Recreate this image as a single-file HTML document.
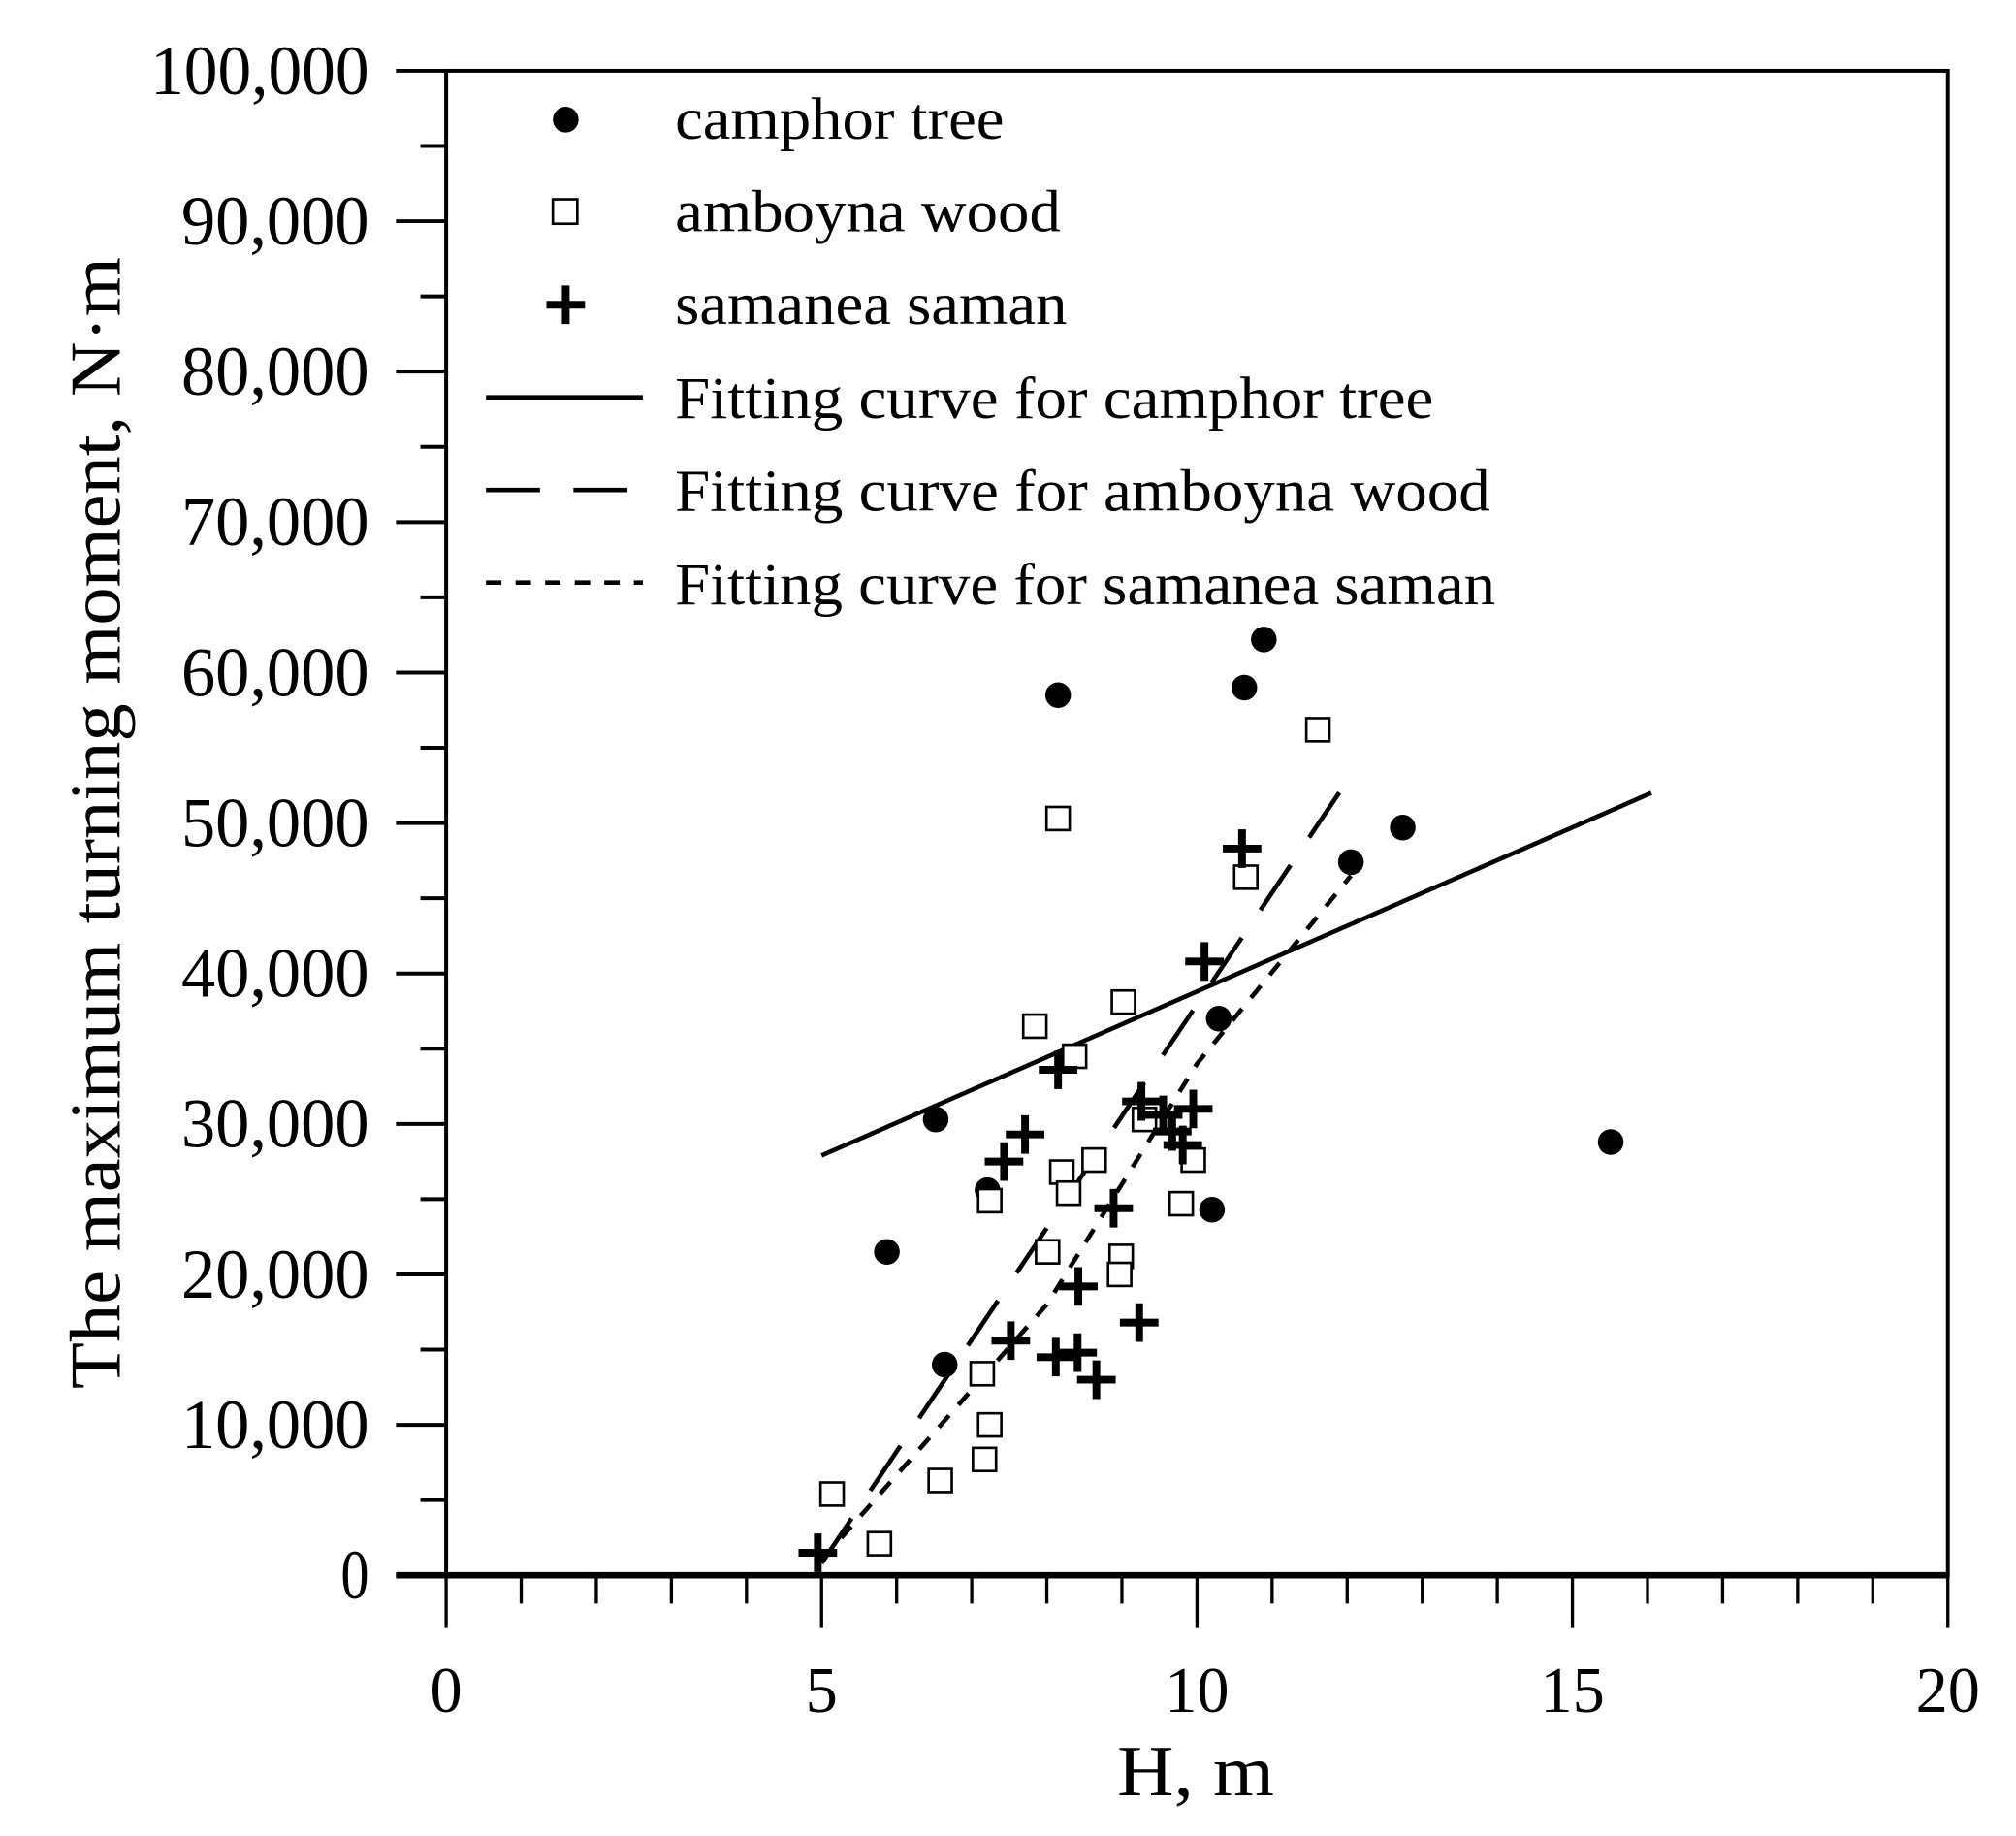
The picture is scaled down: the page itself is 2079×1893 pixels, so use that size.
<!DOCTYPE html>
<html><head><meta charset="utf-8"><style>html,body{margin:0;padding:0;background:#fff}svg{display:block}</style></head>
<body>
<svg id="chart" width="2079" height="1893" viewBox="0 0 1568 1427.7" xmlns="http://www.w3.org/2000/svg" font-family="'Liberation Serif', serif" fill="#000">
<rect width="1568" height="1428" fill="#fff"/>
<g id="axes"></g>
<g id="marks"></g>
<g id="legend">
  <circle cx="440" cy="93" r="10"/>
  <rect x="430" y="155" width="19" height="19" fill="#fff" stroke="#000" stroke-width="2"/>
  <path d="M440 222V252M425 237H455" stroke="#000" stroke-width="6"/>
  <line x1="378" y1="309" x2="500" y2="309" stroke="#000" stroke-width="3.5"/>
  <line x1="378" y1="381" x2="500" y2="381" stroke="#000" stroke-width="3.5" stroke-dasharray="42,26"/>
  <line x1="378" y1="453" x2="500" y2="453" stroke="#000" stroke-width="3.5" stroke-dasharray="12,11"/>
  <text x="525" y="108" font-size="46" textLength="256" lengthAdjust="spacingAndGlyphs">camphor tree</text>
  <text x="525" y="180" font-size="46" textLength="300" lengthAdjust="spacingAndGlyphs">amboyna wood</text>
  <text x="525" y="252" font-size="46" textLength="305" lengthAdjust="spacingAndGlyphs">samanea saman</text>
  <text x="525" y="325" font-size="46" textLength="590" lengthAdjust="spacingAndGlyphs">Fitting curve for camphor tree</text>
  <text x="525" y="397" font-size="46" textLength="634" lengthAdjust="spacingAndGlyphs">Fitting curve for amboyna wood</text>
  <text x="525" y="470" font-size="46" textLength="638" lengthAdjust="spacingAndGlyphs">Fitting curve for samanea saman</text>
</g>
<text x="930" y="1396" font-size="56" text-anchor="middle" textLength="122" lengthAdjust="spacingAndGlyphs">H, m</text>
<text transform="translate(93,640) rotate(-90)" font-size="56" text-anchor="middle" textLength="880" lengthAdjust="spacingAndGlyphs">The maximum turning moment, N·m</text>
</svg>
<script>
const xTicks = [0, 5, 10, 15, 20];
const yTicks = [0, 10000, 20000, 30000, 40000, 50000, 60000, 70000, 80000, 90000, 100000];
const yTickLabels = ["0","10,000","20,000","30,000","40,000","50,000","60,000","70,000","80,000","90,000","100,000"];
const camphorX = [8.15,10.63,10.89,12.74,12.05,10.29,6.52,7.21,10.2,5.87,6.64,15.51];
const camphorY = [58500,59000,62200,49700,47400,37000,30300,25600,24300,21500,14000,28800];
const amboynaX = [11.61,8.15,10.65,9.02,7.84,8.37,9.3,8.63,9.95,8.2,8.29,7.24,9.79,8.99,8.01,8.97,7.14,7.24,7.17,6.58,5.14,5.77];
const amboynaY = [56200,50300,46400,38100,36500,34500,30300,27600,27600,26800,25400,24900,24700,21200,21500,20000,13400,10000,7700,6300,5400,2100];
const samaneaX = [10.6,10.1,8.15,9.26,9.55,9.95,9.67,9.81,7.71,7.43,8.89,8.42,9.23,7.52,8.12,8.41,8.66,4.95];
const samaneaY = [48300,40800,33600,31500,30600,31000,29500,28600,29300,27500,24400,19200,16800,15600,14500,14800,13000,1500];
const fitCamphorX = [5, 16.05];
const fitCamphorY = [27900, 52000];
const fitAmboynaX = [5, 12.04];
const fitAmboynaY = [800, 53100];
const fitSamaneaX = [5, 8, 10, 12.05];
const fitSamaneaY = [1000, 18000, 34000, 46500];

const X0=347, X1=1515, Y0=1225, Y1=55;
const sx = v => X0 + (v - 0) / 20 * (X1 - X0);
const sy = v => Y0 - v / 100000 * (Y0 - Y1);
const NS = "http://www.w3.org/2000/svg";
const axes = document.getElementById('axes');
const marks = document.getElementById('marks');
function mk(tag, attrs, parent) {
  const e = document.createElementNS(NS, tag);
  for (const k in attrs) e.setAttribute(k, attrs[k]);
  parent.appendChild(e);
  return e;
}
// frame
const frame = mk('rect', {x:X0, y:Y1, width:X1-X0, height:Y0-Y1, fill:'none', stroke:'#000', 'stroke-width':3}, axes);


const xAxis = mk('line', {x1:308, y1:Y0, x2:X1, y2:Y0, stroke:'#000', 'stroke-width':5}, axes);


// x ticks
for (let v = 0; v <= 20; v += 1) {
  const major = v % 5 === 0;
  const t = mk('line', {x1:sx(v), y1:Y0, x2:sx(v), y2:Y0 + (major ? 41 : 22), stroke:'#000', 'stroke-width':2.5}, axes);
  
  
}
xTicks.forEach(v => {
  const t = mk('text', {x:sx(v), y:1331, 'font-size':50, 'text-anchor':'middle'}, axes);
  t.textContent = String(v);
  
  
});
// y ticks
for (let v = 0; v <= 100000; v += 5000) {
  const major = v % 10000 === 0;
  const t = mk('line', {x1:X0 - (major ? 39 : 20), y1:sy(v), x2:X0, y2:sy(v), stroke:'#000', 'stroke-width':3}, axes);
  
  
}
yTicks.forEach((v, i) => {
  const lbl = yTickLabels[i];
  const w = lbl.length === 1 ? 22 : (lbl.length === 6 ? 146 : 170);
  const t = mk('text', {x:287, y:sy(v) + 18, 'font-size':54, 'text-anchor':'end', textLength:w, lengthAdjust:'spacingAndGlyphs'}, axes);
  t.textContent = lbl;
  
  
});
// fit lines
function fit(xs, ys, dash, name) {
  const p = mk('polyline', {points: xs.map((x, i) => sx(x) + ',' + sy(ys[i])).join(' '), fill:'none', stroke:'#000', 'stroke-width':3.5, 'stroke-dasharray':dash}, marks);
  
  
}
fit(fitCamphorX, fitCamphorY, 'none', 'fit-line-camphor');
fit(fitAmboynaX, fitAmboynaY, '42,26', 'fit-line-amboyna');
fit(fitSamaneaX, fitSamaneaY, '12,11', 'fit-line-samanea');
// points
camphorX.forEach((x, i) => {
  const c = mk('circle', {cx:sx(x), cy:sy(camphorY[i]), r:10}, marks);
  
  
});
amboynaX.forEach((x, i) => {
  const r = mk('rect', {x:sx(x) - 9, y:sy(amboynaY[i]) - 9, width:18, height:18, fill:'#fff', stroke:'#000', 'stroke-width':2}, marks);
  
  
});
samaneaX.forEach((x, i) => {
  const cx = sx(x), cy = sy(samaneaY[i]);
  const p = mk('path', {d:`M${cx} ${cy-15}V${cy+15}M${cx-15} ${cy}H${cx+15}`, stroke:'#000', 'stroke-width':6}, marks);
  
  
});
</script>
</body></html>
